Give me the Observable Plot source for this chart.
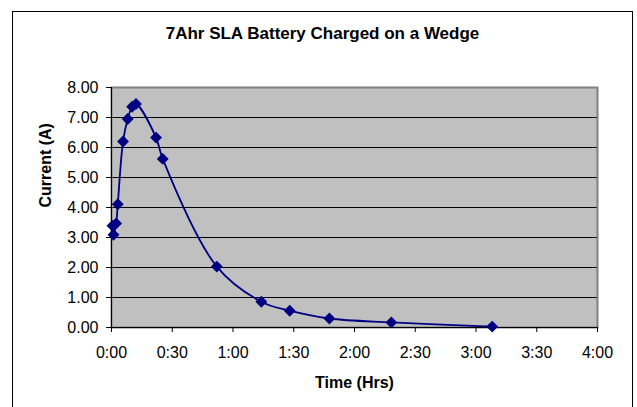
<!DOCTYPE html>
<html>
<head>
<meta charset="utf-8">
<script src="https://cdn.jsdelivr.net/npm/d3@7"></script>
<script src="https://cdn.jsdelivr.net/npm/@observablehq/plot@0.6"></script>
<style>
  html, body { margin: 0; padding: 0; background: #fff; }
  #wrap { position: relative; width: 637px; height: 407px; overflow: hidden; }
  #border { position: absolute; left: 11.5px; top: 10.5px; width: 621px; height: 420px; border: 1.5px solid #000; box-sizing: border-box; }
  #chart { position: absolute; left: 0; top: 0; }
</style>
</head>
<body>
<div id="wrap"><div id="border"></div><div id="chart"></div></div>
<script>
const title = "7Ahr SLA Battery Charged on a Wedge";
const xLabel = "Time (Hrs)";
const yLabel = "Current (A)";
// time in minutes since start of charge
const timeMin = [0.5, 1, 2.3, 3.1, 5.7, 8, 10.2, 12.1, 22, 25.3, 52, 74, 88, 107.6, 138.2, 188];
const currentA = [3.39, 3.09, 3.47, 4.11, 6.2, 6.95, 7.36, 7.45, 6.33, 5.62, 2.03, 0.86, 0.56, 0.30, 0.17, 0.03];
const xTicks = [0, 30, 60, 90, 120, 150, 180, 210, 240];
const yTicks = [0, 1, 2, 3, 4, 5, 6, 7, 8];
const gridY = [1, 2, 3, 4, 5, 6, 7];

const data = timeMin.map((t, i) => ({t, c: currentA[i]}));
const fmtTime = m => `${Math.floor(m / 60)}:${String(m % 60).padStart(2, "0")}`;

const chart = Plot.plot({
  width: 637,
  height: 407,
  marginLeft: 111,
  marginRight: 40,
  marginTop: 87,
  marginBottom: 80,
  style: {fontFamily: "'Liberation Sans', Arial, sans-serif", fontSize: "16px", background: "transparent", color: "#000"},
  x: {domain: [0, 240], axis: null},
  y: {domain: [0, 8], axis: null},
  marks: [
    Plot.frame({fill: "#c0c0c0"}),
    Plot.ruleY(gridY, {stroke: "#000", strokeWidth: 1}),
    Plot.frame({stroke: "#808080", strokeWidth: 2}),
    Plot.ruleX([0], {stroke: "#000", strokeWidth: 1}),
    Plot.ruleY([0], {stroke: "#000", strokeWidth: 1}),
    Plot.axisY({ticks: yTicks, tickFormat: d => d.toFixed(2), tickSize: 5, tickPadding: 8, label: null, fontSize: 16}),
    Plot.axisX({ticks: xTicks, tickFormat: fmtTime, tickSize: 5, tickPadding: 14, label: null, fontSize: 16}),
    Plot.line(data, {x: "t", y: "c", stroke: "#000080", strokeWidth: 1.8, curve: "catmull-rom"}),
    Plot.dot(data, {x: "t", y: "c", symbol: "diamond2", fill: "#000080", stroke: "#000080", r: 4.4}),
    Plot.text([title], {frameAnchor: "top", lineAnchor: "middle", dx: -32, dy: -54, fontWeight: "bold", fontSize: 17, text: d => d}),
    Plot.text([xLabel], {frameAnchor: "bottom", lineAnchor: "middle", dy: 55, fontWeight: "bold", fontSize: 16, text: d => d}),
    Plot.text([yLabel], {frameAnchor: "left", dx: -66, rotate: -90, fontWeight: "bold", fontSize: 16, text: d => d})
  ]
});
document.getElementById("chart").appendChild(chart);
</script>
</body>
</html>
